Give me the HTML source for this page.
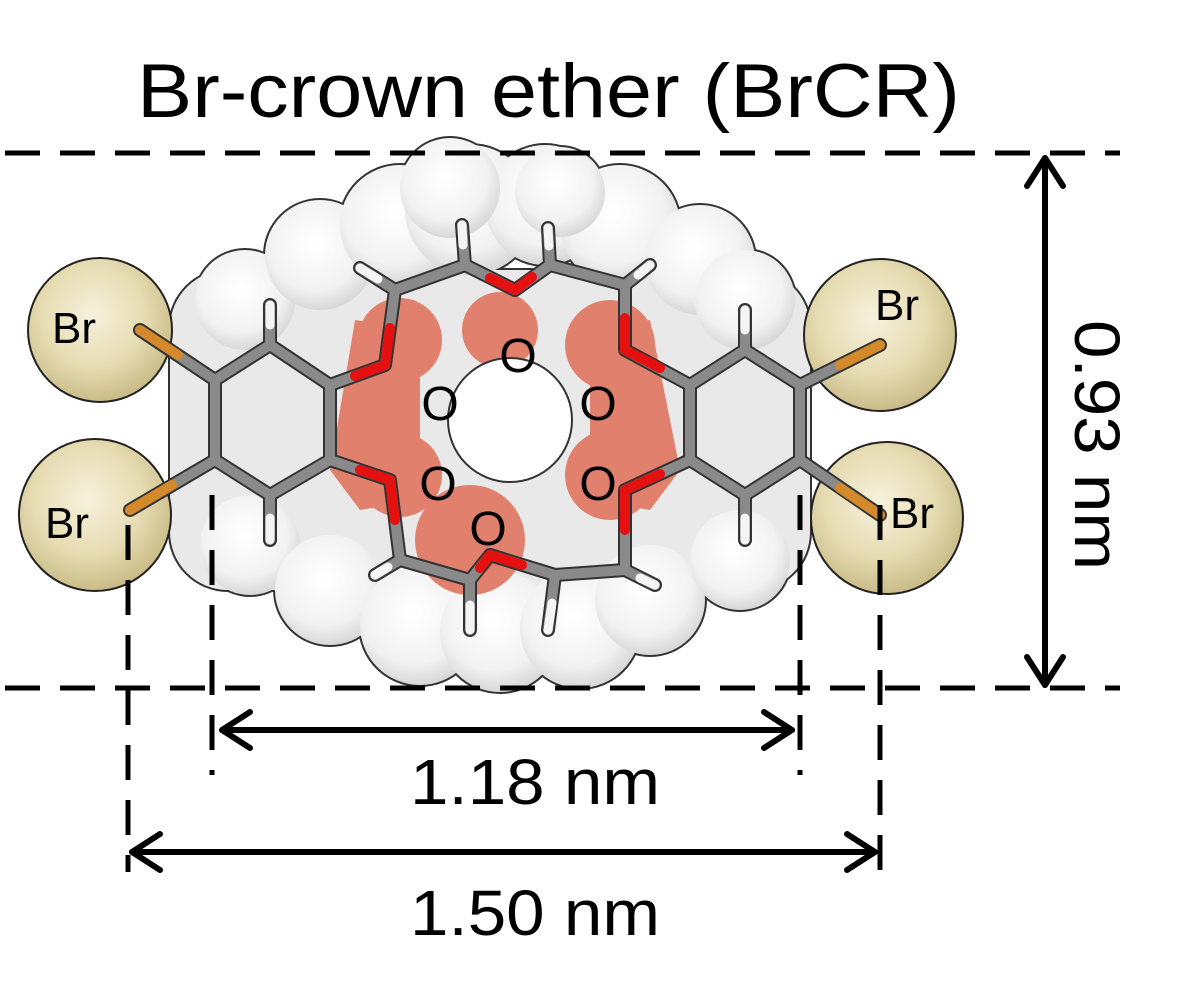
<!DOCTYPE html>
<html><head><style>html,body{margin:0;padding:0;background:#fff}svg{display:block}</style></head><body>
<svg width="1200" height="1003" viewBox="0 0 1200 1003" xmlns="http://www.w3.org/2000/svg" font-family="Liberation Sans, sans-serif">
<defs>
<radialGradient id="br" cx="0.45" cy="0.4" r="0.6"><stop offset="0" stop-color="#f6f1dc"/><stop offset="0.6" stop-color="#e6dcb2"/><stop offset="1" stop-color="#c9bc88"/></radialGradient>
<radialGradient id="wh" cx="0.45" cy="0.4" r="0.6"><stop offset="0" stop-color="#ffffff"/><stop offset="0.7" stop-color="#f2f2f2"/><stop offset="1" stop-color="#d8d8d8"/></radialGradient>
</defs>
<text x="137" y="117" font-size="76" textLength="823" lengthAdjust="spacingAndGlyphs">Br-crown ether (BrCR)</text>
<!-- body outline -->
<g fill="#333">
<rect x="168" y="268" width="644" height="324" rx="60"/>
<circle cx="245" cy="300" r="52"/><circle cx="320" cy="255" r="57"/><circle cx="400" cy="225" r="62"/><circle cx="470" cy="210" r="67"/><circle cx="545" cy="205" r="62"/><circle cx="620" cy="225" r="62"/><circle cx="700" cy="260" r="57"/><circle cx="745" cy="300" r="52"/><circle cx="450" cy="188" r="52"/><circle cx="560" cy="192" r="47"/>
<circle cx="250" cy="545" r="52"/><circle cx="330" cy="590" r="57"/><circle cx="420" cy="625" r="62"/><circle cx="500" cy="632" r="62"/><circle cx="580" cy="628" r="62"/><circle cx="650" cy="600" r="57"/><circle cx="740" cy="560" r="52"/>
</g>
<g fill="url(#wh)">
<rect x="170" y="270" width="640" height="320" rx="58" fill="#e9e9e9"/>
<circle cx="245" cy="300" r="50"/><circle cx="320" cy="255" r="55"/><circle cx="400" cy="225" r="60"/><circle cx="470" cy="210" r="65"/><circle cx="545" cy="205" r="60"/><circle cx="620" cy="225" r="60"/><circle cx="700" cy="260" r="55"/><circle cx="745" cy="300" r="50"/><circle cx="450" cy="188" r="50"/><circle cx="560" cy="192" r="45"/>
<circle cx="250" cy="545" r="50"/><circle cx="330" cy="590" r="55"/><circle cx="420" cy="625" r="60"/><circle cx="500" cy="632" r="60"/><circle cx="580" cy="628" r="60"/><circle cx="650" cy="600" r="55"/><circle cx="740" cy="560" r="50"/>
</g>
<g fill="#e2806e">
<circle cx="400" cy="340" r="42"/><circle cx="610" cy="345" r="45"/><circle cx="400" cy="475" r="42"/><circle cx="610" cy="475" r="45"/><circle cx="500" cy="330" r="38"/><circle cx="470" cy="540" r="55"/>
<polygon points="355,320 330,470 360,510 420,500 420,330"/><polygon points="650,320 680,470 650,510 590,500 590,330"/>
</g>
<circle cx="510" cy="420" r="62" fill="#fff" stroke="#333" stroke-width="2"/>
<g fill="url(#br)" stroke="#222" stroke-width="2">
<circle cx="100" cy="330" r="72"/><circle cx="95" cy="515" r="76"/><circle cx="880" cy="335" r="76"/><circle cx="887" cy="518" r="76"/>
</g>
<g fill="none" stroke-linecap="round" stroke-linejoin="round">
<g stroke="#333" stroke-width="14">
<polygon points="215,380 270,345 330,385 330,460 270,495 215,460"/>
<polygon points="690,385 745,350 800,385 800,460 745,495 690,460"/>
<polyline points="330,385 385,365 395,290 465,265 515,290 550,265 625,285 625,350 690,385"/>
<polyline points="330,460 390,480 400,560 470,580 490,555 555,575 625,570 625,490 690,460"/>
<path d="M215 380L140 330M215 460L130 510M800 385L880 345M800 460L880 515M270 345V305M270 495V540M745 350V310M745 495V540M395 290L360 268M465 265L462 225M550 265L548 228M625 285L650 265M400 560L375 575M470 580L470 630M555 575L548 630M625 570L655 585"/>
</g>
<g stroke="#8a8a8a" stroke-width="10">
<polygon points="215,380 270,345 330,385 330,460 270,495 215,460"/>
<polygon points="690,385 745,350 800,385 800,460 745,495 690,460"/>
<polyline points="330,385 385,365 395,290 465,265 515,290 550,265 625,285 625,350 690,385"/>
<polyline points="330,460 390,480 400,560 470,580 490,555 555,575 625,570 625,490 690,460"/>
<path d="M215 380L140 330M215 460L130 510M800 385L880 345M800 460L880 515M270 345V305M270 495V540M745 350V310M745 495V540M395 290L360 268M465 265L462 225M550 265L548 228M625 285L650 265M400 560L375 575M470 580L470 630M555 575L548 630M625 570L655 585"/>
</g>
<g stroke="#d48a2a" stroke-width="10"><path d="M178 355L140 330M172 485L130 510M840 365L880 345M840 488L880 515"/></g>
<g stroke="#e51010" stroke-width="10"><path d="M355 376L385 365L390 328M360 470L390 480L395 520M490 278L515 290L532 277M480 568L490 555L522 565M660 368L625 350L625 318M660 474L625 490L625 530"/></g>
<g stroke="#f4f4f4" stroke-width="9"><path d="M270 325V305M270 518V540M745 330V310M745 518V540M378 279L360 268M463 245L462 225M549 246L548 228M638 275L650 265M388 567L375 575M470 605L470 630M552 603L548 630M640 578L655 585"/></g>
</g>
<g font-size="44" fill="#000">
<text x="52" y="343">Br</text><text x="45" y="538">Br</text><text x="875" y="320">Br</text><text x="890" y="528">Br</text>
</g>
<g font-size="48" fill="#000" text-anchor="middle">
<text x="518" y="372">O</text><text x="440" y="420">O</text><text x="598" y="420">O</text><text x="438" y="500">O</text><text x="598" y="500">O</text><text x="488" y="545">O</text>
</g>
<g stroke="#000" stroke-width="5" fill="none" stroke-dasharray="35 20">
<line x1="5" y1="153" x2="1120" y2="153"/>
<line x1="5" y1="688" x2="1120" y2="688"/>
<line x1="128" y1="525" x2="128" y2="872"/>
<line x1="212" y1="495" x2="212" y2="775"/>
<line x1="800" y1="495" x2="800" y2="775"/>
<line x1="880" y1="505" x2="880" y2="872"/>
</g>
<g stroke="#000" stroke-width="6" fill="none" stroke-linecap="round" stroke-linejoin="round">
<line x1="222" y1="730" x2="792" y2="730"/><polyline points="250,712 222,730 250,748"/><polyline points="764,712 792,730 764,748"/>
<line x1="132" y1="852" x2="875" y2="852"/><polyline points="160,834 132,852 160,870"/><polyline points="847,834 875,852 847,870"/>
<line x1="1045" y1="158" x2="1045" y2="685"/><polyline points="1027,186 1045,158 1063,186"/><polyline points="1027,657 1045,685 1063,657"/>
</g>
<text x="410" y="804" font-size="64" textLength="250" lengthAdjust="spacingAndGlyphs">1.18 nm</text>
<text x="410" y="935" font-size="64" textLength="250" lengthAdjust="spacingAndGlyphs">1.50 nm</text>
<text transform="translate(1075,320) rotate(90)" font-size="64" textLength="250" lengthAdjust="spacingAndGlyphs">0.93 nm</text>
</svg>
</body></html>
